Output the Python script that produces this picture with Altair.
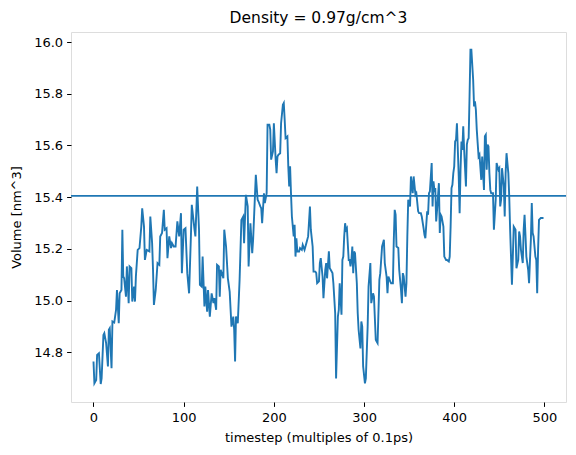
import altair as alt
import pandas as pd

# (timestep, volume [nm^3]), split by stretch of the run
seg_0_85 = [(0,14.764),(1,14.680),(3,14.693),(4,14.790),(6,14.796),(8,14.677),(9,14.699),(11,14.867),(12,14.874),(14,14.835),(16,14.745),(17,14.887),(18,14.893),(20,14.738),(21,14.919),(23,14.915),(25,14.964),(26,15.041),(28,14.912),(29,15.028),(31,15.041),(32,15.274),(33,15.093),(34,15.086),(36,15.015),(37,15.132),(39,14.990),(40,15.132),(42,15.125),(43,14.996),(45,15.054),(46,14.996),(47,15.093),(49,15.196),(51,15.203),(53,15.286),(54,15.357),(56,15.286),(57,15.157),(59,15.196),(62,15.190),(63,15.325),(65,15.222),(66,15.119),(67,14.983),(69,15.041),(71,15.145),(73,15.138),(74,15.248),(76,15.261),(78,15.351),(79,15.274),(81,15.280),(82,15.164),(84,15.248)]
seg_85_173 = [(86,15.203),(87,15.222),(89,15.209),(91,15.209),(93,15.306),(95,15.248),(97,15.338),(98,15.106),(100,15.274),(102,15.280),(104,15.106),(106,15.028),(108,15.248),(109,15.370),(112,15.274),(113,15.248),(115,15.441),(117,15.274),(118,15.061),(120,15.054),(121,15.170),(123,14.977),(124,15.054),(126,14.957),(127,15.041),(129,14.938),(131,15.028),(133,14.990),(134,15.009),(136,14.964),(137,15.138),(139,15.132),(140,15.015),(141,15.119),(144,15.086),(145,15.274),(147,15.209),(149,15.086),(151,15.035),(153,14.899),(155,14.938),(156,14.886),(157,14.764),(158,14.938),(160,14.912),(162,15.080),(164,15.312),(166,15.325),(167,15.222),(169,15.409),(171,15.364),(172,15.132)]
seg_173_261 = [(174,15.299),(176,15.183),(177,15.235),(179,15.403),(180,15.486),(182,15.390),(183,15.383),(185,15.364),(186,15.357),(187,15.299),(189,15.415),(190,15.377),(192,15.415),(193,15.680),(195,15.680),(196,15.661),(197,15.545),(199,15.577),(200,15.686),(202,15.545),(203,15.493),(204,15.557),(205,15.564),(207,15.570),(208,15.686),(210,15.757),(211,15.764),(212,15.699),(213,15.628),(215,15.635),(216,15.519),(217,15.441),(218,15.519),(219,15.415),(220,15.325),(222,15.248),(223,15.293),(224,15.170),(225,15.241),(226,15.190),(228,15.190),(229,15.203),(231,15.196),(232,15.215),(234,15.196),(236,15.222),(238,15.248),(239,15.306),(240,15.364),(241,15.274),(243,15.209),(244,15.112),(246,15.112),(247,15.106),(248,15.067),(250,15.074),(251,15.145),(252,15.164),(254,15.093),(255,15.009),(257,15.119),(258,15.145),(259,15.086),(261,15.190)]
seg_261_350 = [(262,15.125),(263,15.119),(265,15.106),(266,15.067),(268,14.951),(269,14.699),(271,14.938),(272,14.964),(273,15.067),(275,14.945),(276,15.157),(277,15.170),(278,15.248),(279,15.299),(280,15.274),(281,15.280),(283,15.157),(284,15.157),(285,15.132),(286,15.157),(287,15.209),(288,15.106),(289,15.190),(290,15.183),(292,15.067),(293,14.951),(294,14.886),(296,14.815),(297,14.919),(298,14.899),(299,14.745),(301,14.680),(302,14.699),(304,14.899),(305,15.054),(307,15.145),(308,14.990),(310,15.028),(311,15.015),(313,14.848),(314,14.841),(315,14.835),(317,15.080),(318,15.106),(320,15.209),(321,15.222),(322,15.235),(323,15.145),(325,15.093),(326,15.028),(327,15.093),(329,15.074),(330,15.067),(332,15.067),(333,15.235),(334,15.351),(335,15.332),(336,15.209),(338,15.203),(339,15.119),(341,15.041),(342,14.990),(343,15.106),(344,15.093),(346,15.015),(347,15.067),(348,15.248),(349,15.390)]
seg_350_433 = [(351,15.364),(352,15.480),(354,15.415),(355,15.480),(357,15.409),(358,15.415),(360,15.345),(361,15.338),(363,15.338),(364,15.325),(366,15.280),(367,15.254),(368,15.241),(370,15.345),(371,15.332),(372,15.415),(373,15.422),(375,15.532),(376,15.364),(377,15.461),(378,15.428),(379,15.435),(380,15.306),(381,15.351),(383,15.454),(384,15.261),(385,15.332),(386,15.325),(388,15.286),(389,15.170),(391,15.157),(392,15.157),(394,15.151),(395,15.170),(396,15.286),(397,15.435),(398,15.448),(399,15.493),(400,15.519),(401,15.615),(402,15.622),(403,15.686),(405,15.480),(406,15.338),(407,15.506),(408,15.615),(409,15.583),(410,15.674),(411,15.583),(413,15.441),(414,15.603),(415,15.622),(416,15.628),(417,15.790),(418,15.970),(419,15.970),(421,15.854),(422,15.751),(423,15.770),(424,15.738),(425,15.661),(426,15.609),(427,15.557),(428,15.564),(430,15.467),(431,15.557),(432,15.493),(433,15.428)]
seg_433_499 = [(434,15.635),(435,15.641),(436,15.506),(437,15.603),(438,15.596),(439,15.493),(440,15.428),(441,15.415),(443,15.415),(444,15.274),(446,15.390),(447,15.532),(449,15.506),(450,15.512),(451,15.364),(452,15.390),(453,15.512),(455,15.441),(456,15.325),(457,15.493),(458,15.570),(460,15.493),(461,15.403),(462,15.274),(464,15.061),(465,15.170),(466,15.286),(468,15.274),(469,15.125),(471,15.157),(472,15.267),(473,15.248),(474,15.196),(476,15.145),(477,15.274),(478,15.332),(479,15.254),(480,15.170),(482,15.119),(483,15.067),(484,15.157),(485,15.235),(486,15.377),(487,15.261),(488,15.248),(490,15.170),(491,15.157),(492,15.028),(493,15.196),(494,15.312),(496,15.319),(499,15.319)]

reference_volume = 15.405
x_ticks = [0, 100, 200, 300, 400, 500]
y_ticks = [14.8, 15.0, 15.2, 15.4, 15.6, 15.8, 16.0]
title_text = "Density = 0.97g/cm^3"
x_title = "timestep (multiples of 0.1ps)"
y_title = "Volume [nm^3]"

rows = seg_0_85 + seg_85_173 + seg_173_261 + seg_261_350 + seg_350_433 + seg_433_499
df = pd.DataFrame(rows, columns=["timestep", "volume"])
ref_df = pd.DataFrame({"volume": [reference_volume]})

BLUE = "#1f77b4"
FONT = "DejaVu Sans"
W, H = 495, 370

xscale = alt.Scale(domain=[-24.95, 523.95], nice=False, zero=False)
yscale = alt.Scale(domain=[14.6076, 16.0387], nice=False, zero=False)

xaxis = alt.Axis(values=x_ticks, title=x_title, grid=False, domain=False,
                 tickColor="black", tickSize=4.4, tickWidth=1, labelPadding=5,
                 labelFontSize=13, labelColor="black", labelFont=FONT,
                 titleFont=FONT, titleFontSize=13, titleFontWeight="normal",
                 titleColor="black", titleX=W / 2, titleY=35,
                 titleBaseline="middle", titleAlign="center")
yaxis = alt.Axis(values=y_ticks, format=".1f", title=y_title, grid=False, domain=False,
                 tickColor="black", tickSize=4.4, tickWidth=1, labelPadding=4,
                 labelFontSize=13, labelColor="black", labelFont=FONT,
                 titleFont=FONT, titleFontSize=13, titleFontWeight="normal",
                 titleColor="black", titleX=-55, titleY=H / 2, titleAngle=-90,
                 titleBaseline="middle", titleAlign="center")

line = alt.Chart(df).mark_line(color=BLUE, strokeWidth=1.9, clip=True).encode(
    x=alt.X("timestep:Q", scale=xscale, axis=xaxis),
    y=alt.Y("volume:Q", scale=yscale, axis=yaxis),
)
rule = alt.Chart(ref_df).mark_rule(color=BLUE, strokeWidth=1.9).encode(
    y=alt.Y("volume:Q", scale=yscale),
)

chart = (line + rule).properties(
    width=W, height=H,
    title=alt.TitleParams(title_text, font=FONT, fontSize=15.5, fontWeight="normal",
                          color="black", anchor="middle", offset=6),
    autosize=alt.AutoSizeParams(type="none"),
    padding={"left": 71, "top": 32, "right": 10, "bottom": 53},
).configure_view(stroke="black", strokeWidth=1).configure(background="white")

chart.save("out.html", embed_options={"renderer": "svg", "actions": False})
